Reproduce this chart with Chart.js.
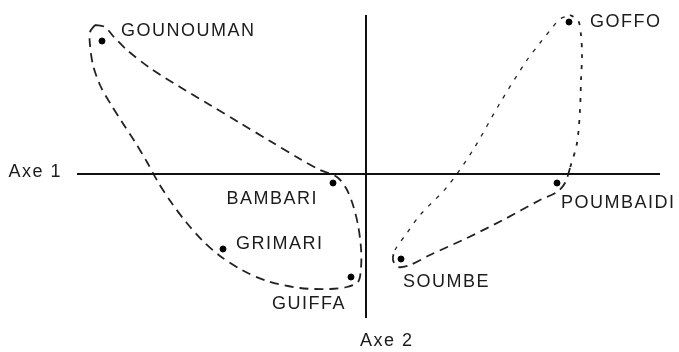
<!DOCTYPE html>
<html>
<head>
<meta charset="utf-8">
<script src="https://cdn.jsdelivr.net/npm/chart.js@4/dist/chart.umd.min.js"></script>
<style>
  html, body { margin: 0; padding: 0; background: #fff; }
  #wrap { width: 679px; height: 352px; position: relative; }
</style>
</head>
<body>
<div id="wrap"><canvas id="planChart"></canvas></div>
<script>
// Étendue des deux axes factoriels
const axe1Range = [-2.89, 2.94];
const axe2Range = [-1.44, 1.59];

// Localités et coordonnées sur les axes 1 et 2
const villes = ['GOUNOUMAN', 'GOFFO', 'BAMBARI', 'GRIMARI', 'GUIFFA', 'SOUMBE', 'POUMBAIDI'];
const axe1 = [-2.64, 2.03, -0.33, -1.43, -0.15, 0.35, 1.91];
const axe2 = [1.33, 1.52, -0.09, -0.75, -1.03, -0.85, -0.09];

// Contour du groupe ouest (Gounouman, Bambari, Grimari, Guiffa)
const groupeOuestX = [-2.71, -2.61, -2.53, -2.39, -2.16, -1.86, -1.56, -1.26, -0.96, -0.66, -0.46, -0.29,
  -0.20, -0.13, -0.08, -0.05, -0.05, -0.08, -0.19, -0.36, -0.66, -0.99, -1.24, -1.46, -1.64, -1.80,
  -1.95, -2.08, -2.19, -2.31, -2.44, -2.56, -2.66, -2.73, -2.76, -2.76, -2.71];
const groupeOuestY = [1.49, 1.47, 1.38, 1.24, 1.06, 0.87, 0.69, 0.51, 0.33, 0.15, 0.04, -0.03,
  -0.14, -0.31, -0.51, -0.74, -0.94, -1.08, -1.13, -1.15, -1.14, -1.07, -0.96, -0.82, -0.66, -0.48,
  -0.28, -0.08, 0.12, 0.32, 0.52, 0.71, 0.89, 1.09, 1.29, 1.42, 1.49];

// Contour du groupe est (Goffo, Poumbaidi, Soumbe)
const groupeEstX = [2.04, 2.12, 2.15, 2.16, 2.15, 2.14, 2.11, 2.04, 1.99, 1.91, 1.74, 1.37, 1.01, 0.64,
  0.44, 0.32, 0.27, 0.29, 0.41, 0.54, 0.81, 1.07, 1.34, 1.61, 1.74, 1.86, 1.94, 2.04];
const groupeEstY = [1.59, 1.54, 1.39, 1.19, 0.94, 0.64, 0.31, 0.06, -0.09, -0.18, -0.26, -0.46, -0.64, -0.81,
  -0.91, -0.93, -0.86, -0.76, -0.59, -0.41, -0.13, 0.24, 0.71, 1.14, 1.31, 1.46, 1.55, 1.59];

const toPoints = (xs, ys) => xs.map((x, i) => ({ x: x, y: ys[i] }));

// Placement des étiquettes autour de chaque point
const placement = {
  GOUNOUMAN: { dx: 19, dy: -10, align: 'left' },
  GOFFO: { dx: 21, dy: 0, align: 'left' },
  BAMBARI: { dx: -15, dy: 16, align: 'right' },
  GRIMARI: { dx: 13, dy: -5, align: 'left' },
  GUIFFA: { dx: -5, dy: 27, align: 'right' },
  SOUMBE: { dx: 2, dy: 23, align: 'left' },
  POUMBAIDI: { dx: 4, dy: 20, align: 'left' }
};

const FONT = '18px "Liberation Sans", Arial, sans-serif';

const etiquettes = {
  id: 'etiquettes',
  afterDatasetsDraw(chart) {
    const ctx = chart.ctx;
    const meta = chart.getDatasetMeta(4);
    ctx.save();
    ctx.font = FONT;
    ctx.letterSpacing = '1.5px';
    ctx.fillStyle = '#1c1c1c';
    ctx.textBaseline = 'middle';
    meta.data.forEach((pt, i) => {
      const p = placement[villes[i]];
      ctx.textAlign = p.align;
      ctx.fillText(villes[i], pt.x + p.dx, pt.y + p.dy);
    });
    // Noms des axes
    const xs = chart.scales.x, ys = chart.scales.y;
    ctx.textAlign = 'right';
    ctx.fillText('Axe 1', chart.chartArea.left - 15, ys.getPixelForValue(0) - 2);
    ctx.textAlign = 'left';
    ctx.fillText('Axe 2', xs.getPixelForValue(0) - 6, chart.chartArea.bottom + 23);
    ctx.restore();
  }
};

const ctx = document.getElementById('planChart').getContext('2d');
new Chart(ctx, {
  type: 'scatter',
  data: {
    datasets: [
      {
        data: [{ x: axe1Range[0], y: 0 }, { x: axe1Range[1], y: 0 }],
        showLine: true, borderColor: '#111', borderWidth: 2, pointRadius: 0, clip: false
      },
      {
        data: [{ x: 0, y: axe2Range[1] }, { x: 0, y: axe2Range[0] }],
        showLine: true, borderColor: '#111', borderWidth: 2, pointRadius: 0, clip: false
      },
      {
        data: toPoints(groupeOuestX, groupeOuestY),
        showLine: true, borderColor: '#222', borderWidth: 1.8, borderDash: [9, 6],
        tension: 0.3, pointRadius: 0, clip: false
      },
      {
        data: toPoints(groupeEstX, groupeEstY),
        showLine: true, borderColor: '#222', borderWidth: 1.8, borderDash: [9, 6],
        tension: 0.3, pointRadius: 0, clip: false,
        segment: {
          borderDash: c => (c.p0DataIndex >= 17 || c.p0DataIndex <= 6) ? [4, 7] : [9, 6],
          borderWidth: c => (c.p0DataIndex >= 17) ? 1.3 : 1.8
        }
      },
      {
        data: toPoints(axe1, axe2),
        backgroundColor: '#000', borderColor: '#000', pointRadius: 3, pointHoverRadius: 3, clip: false
      }
    ]
  },
  options: {
    responsive: true,
    maintainAspectRatio: false,
    animation: false,
    layout: { padding: { left: 77, right: 19, top: 15, bottom: 34 } },
    plugins: { legend: { display: false }, tooltip: { enabled: false } },
    scales: {
      x: { type: 'linear', display: false, min: axe1Range[0], max: axe1Range[1] },
      y: { type: 'linear', display: false, min: axe2Range[0], max: axe2Range[1] }
    }
  },
  plugins: [etiquettes]
});
</script>
</body>
</html>
